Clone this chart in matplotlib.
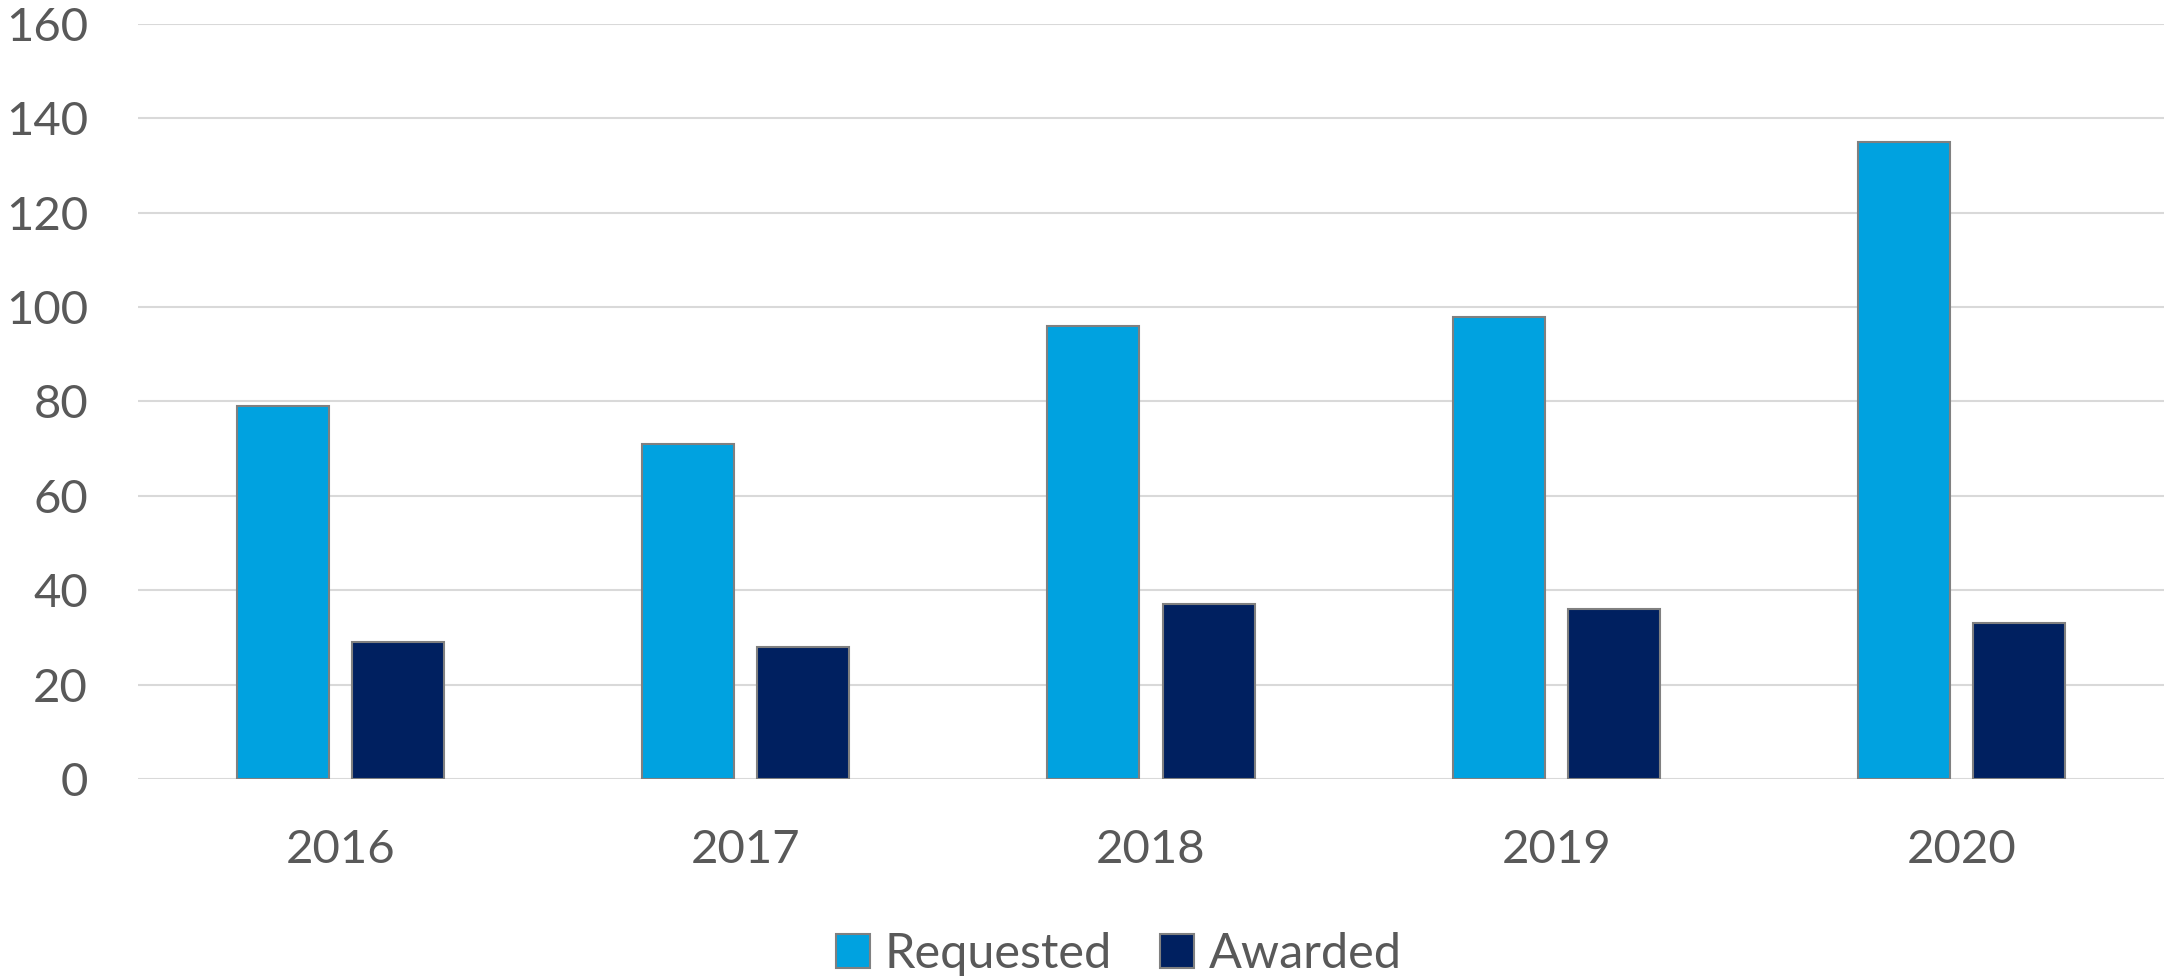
import numpy as np
import matplotlib
matplotlib.use('Agg')
import matplotlib.pyplot as plt

plt.rcParams['font.family'] = ['Lato', 'DejaVu Sans']

years = ['2016', '2017', '2018', '2019', '2020']
requested = [79, 71, 96, 98, 135]
awarded = [29, 28, 37, 36, 33]
yticks = [0, 20, 40, 60, 80, 100, 120, 140, 160]

REQ_COLOR = '#00A2E0'
AWD_COLOR = '#002060'
TEXT_COLOR = '#595959'
GRID_COLOR = '#D9D9D9'

fig = plt.figure(figsize=(21.64, 9.8), dpi=100)
ax = fig.add_axes([138 / 2164, 1 - 779 / 980, 1 - 138 / 2164, (779 - 24) / 980])

x = np.arange(len(years))
w = 0.227
off = 0.142
ax.bar(x - off, requested, w, color=REQ_COLOR, edgecolor='#808080', linewidth=1.5,
       label='Requested', zorder=3)
ax.bar(x + off, awarded, w, color=AWD_COLOR, edgecolor='#808080', linewidth=1.5,
       label='Awarded', zorder=3)

ax.set_xlim(-0.5, len(years) - 0.5)
ax.set_ylim(0, 160)
ax.set_yticks(yticks)
ax.set_xticks(x)
ax.set_xticklabels(years)
ax.yaxis.grid(True, color=GRID_COLOR, linewidth=1.5, zorder=0)
ax.set_axisbelow(True)
for s in ax.spines.values():
    s.set_visible(False)
ax.tick_params(axis='y', length=0, pad=36, labelsize=34, labelcolor=TEXT_COLOR)
ax.tick_params(axis='x', length=0, pad=36, labelsize=34, labelcolor=TEXT_COLOR)

leg = fig.legend(loc='center', bbox_to_anchor=(0.517, 1 - 954 / 980), ncol=2,
                 frameon=False, fontsize=35, handlelength=0.7, handleheight=0.7,
                 handletextpad=0.3, columnspacing=1.0)
for t in leg.get_texts():
    t.set_color(TEXT_COLOR)

fig.savefig('out.png', dpi=100)
